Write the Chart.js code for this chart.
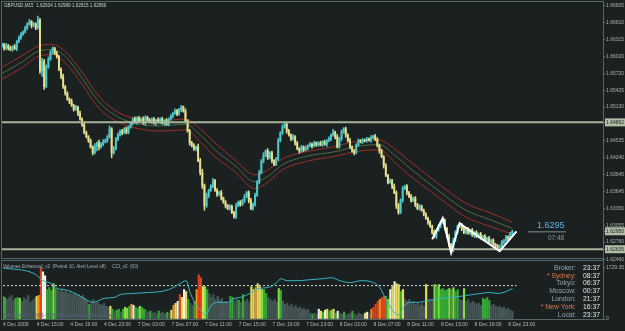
<!DOCTYPE html>
<html lang="en">
<head>
<meta charset="UTF-8">
<title>GBPUSD,M15</title>
<script src="https://cdn.jsdelivr.net/npm/chart.js@4.4.0/dist/chart.umd.min.js"></script>
<style>
  body { margin: 0; background: #1b2121; }
  #wrap { position: relative; width: 625px; height: 331px; overflow: hidden; }
  canvas { position: absolute; left: 0; }
  #main { top: 0; }
  #sub { top: 258px; }
</style>
</head>
<body>
<div id="wrap">
  <canvas id="main" width="625" height="262"></canvas>
  <canvas id="sub" width="625" height="73"></canvas>
</div>
<script>
// ---- data ----
const symbol = 'GBPUSD,M15';
const lastBar = [1.62934, 1.62989, 1.62915, 1.62950];   // O H L C of the running bar
const countdown = '07:48';
const firstOpen = 1.6620;

// M15 closes, 4 Dec 11:00 .. 8 Dec 23:30
const closes = [
  1.6623,1.6616,1.6621,1.6617,1.6614,1.6619,1.6616,1.6628,1.6635,1.6642,
  1.6645,1.6652,1.6659,1.6663,1.6656,1.6659,1.6652,1.6666,1.6576,1.6593,
  1.6549,1.6584,1.6597,1.6610,1.6616,1.6607,1.6602,1.6579,1.6567,1.6549,
  1.6537,1.6527,1.6523,1.6516,1.6509,1.6513,1.6502,1.6492,1.6482,1.6468,
  1.6461,1.6454,1.6443,1.6433,1.6445,1.6450,1.6443,1.6448,1.6452,1.6455,
  1.6461,1.6475,1.6433,1.6440,1.6457,1.6464,1.6471,1.6468,1.6475,1.6469,
  1.6478,1.6485,1.6492,1.6487,1.6494,1.6489,1.6492,1.6485,1.6495,1.6490,
  1.6487,1.6492,1.6485,1.6490,1.6487,1.6492,1.6485,1.6489,1.6483,1.6492,
  1.6497,1.6502,1.6506,1.6501,1.6509,1.6513,1.6506,1.6489,1.6471,1.6450,
  1.6445,1.6440,1.6443,1.6419,1.6398,1.6375,1.6340,1.6358,1.6367,1.6374,
  1.6384,1.6367,1.6360,1.6363,1.6353,1.6346,1.6340,1.6335,1.6339,1.6328,
  1.6321,1.6340,1.6346,1.6342,1.6349,1.6356,1.6363,1.6349,1.6335,1.6342,
  1.6358,1.6381,1.6398,1.6419,1.6428,1.6436,1.6424,1.6433,1.6419,1.6412,
  1.6422,1.6454,1.6468,1.6478,1.6483,1.6471,1.6464,1.6457,1.6461,1.6450,
  1.6440,1.6436,1.6443,1.6438,1.6441,1.6445,1.6448,1.6445,1.6450,1.6447,
  1.6450,1.6447,1.6452,1.6448,1.6454,1.6457,1.6464,1.6469,1.6461,1.6443,
  1.6457,1.6469,1.6475,1.6464,1.6454,1.6443,1.6436,1.6433,1.6447,1.6454,
  1.6452,1.6455,1.6454,1.6457,1.6455,1.6459,1.6462,1.6457,1.6445,1.6436,
  1.6426,1.6410,1.6393,1.6381,1.6384,1.6374,1.6363,1.6340,1.6328,1.6349,
  1.6370,1.6374,1.6363,1.6356,1.6349,1.6353,1.6342,1.6335,1.6339,1.6332,
  1.6325,1.6318,1.6311,1.6304,1.6293,1.6286,1.6297,1.6304,1.6311,1.6314,
  1.6300,1.6286,1.6272,1.6262,1.6279,1.6293,1.6304,1.6307,1.6300,1.6293,
  1.6299,1.6292,1.6297,1.6288,1.6293,1.6286,1.6290,1.6283,1.6286,1.6279,
  1.6283,1.6276,1.6279,1.6272,1.6269,1.6264,1.6269,1.6276,1.6279,1.6285,
  1.6283,1.6290,1.6295
];
// wick lengths above / below the body, in pips, one digit per bar
const wickUp =
  '3242324232' + '2324232736' + '4342324234' + '2324232423' + '3232425342' +
  '3524342323' + '2324232432' + '3232423242' + '3243232423' + '3425463423' +
  '4232423232' + '2423242343' + '4342524232' + '3424423242' + '3232423232' +
  '2323242524' + '3423242323' + '2323242323' + '3242324343' + '4232423232' +
  '2323242324' + '3242432423' + '2323232323' + '2323232323' + '232';
const wickDown =
  '2324232423' + '3232423249' + '5232423243' + '3242324232' + '2324295232' +
  '4293232423' + '3232423242' + '2324232423' + '2323242324' + '2342458342' +
  '3242324232' + '3423242423' + '3232423242' + '2323242324' + '2423232423' +
  '3232423242' + '2324232423' + '2323242324' + '2423242532' + '3242324232' +
  '3242324232' + '3245323242' + '3232423242' + '3242324232' + '323';
const PIP = 0.0001;

// moving average envelope, read at a few bars
const maIdx   = [0, 9, 18, 24, 30, 37, 46, 56, 65, 75, 87, 94, 101, 110, 120, 127, 133, 146, 157, 170, 179, 186, 193, 204, 220, 231, 242];
const maUpper = [1.6583,1.6602,1.6621,1.6623,1.6610,1.6579,1.6532,1.6502,1.6492,1.6489,1.6492,1.6475,1.6450,1.6422,1.6394,1.6405,1.6422,1.6436,1.6443,1.6454,1.6455,1.6440,1.6419,1.6387,1.6344,1.6328,1.6311];
const maMid   = [1.6572,1.6591,1.6612,1.6614,1.6602,1.6569,1.6522,1.6494,1.6483,1.6480,1.6483,1.6464,1.6438,1.6412,1.6382,1.6394,1.6412,1.6428,1.6434,1.6445,1.6447,1.6429,1.6407,1.6375,1.6332,1.6316,1.6300];
const maLower = [1.6562,1.6581,1.6603,1.6605,1.6591,1.6558,1.6511,1.6485,1.6475,1.6471,1.6473,1.6452,1.6426,1.6401,1.6370,1.6384,1.6403,1.6419,1.6426,1.6436,1.6438,1.6417,1.6394,1.6363,1.6320,1.6304,1.6290];

// zigzag
const zzIdx = [204, 209, 213, 217, 236, 244];
const zzVal = [1.6281, 1.6318, 1.6257, 1.6309, 1.6260, 1.6295];

const hLevels = [1.64862, 1.62635];
const priceTicks = [1.66905,1.66610,1.66315,1.66020,1.65720,1.65425,1.65130,1.64535,1.64240,1.63945,1.63645,1.63350,1.63055,1.62760,1.62460];
const markedPrices = [1.64862, 1.62950, 1.62635];

// Volumes Enhanced
const volumes = [
  759,726,660,726,792,627,693,726,693,594,
  726,660,792,561,627,693,759,792,1729,1584,
  1452,990,1056,957,1188,1023,990,924,1023,891,
  957,858,924,825,891,792,825,726,792,693,
  627,495,594,660,528,561,495,462,528,429,
  396,429,330,264,297,330,231,330,396,363,
  429,495,462,396,363,429,396,330,297,231,
  264,198,231,165,264,198,231,165,231,198,
  297,462,528,594,825,726,990,924,660,528,
  462,594,990,1485,1386,1089,1089,990,858,726,
  825,660,759,627,693,561,594,528,759,726,
  594,660,627,561,825,594,660,561,1089,990,
  1056,1188,1089,990,990,858,726,660,594,660,
  561,1023,957,594,495,528,429,495,396,462,
  363,396,330,363,297,330,198,165,198,165,
  330,264,231,297,330,264,297,330,198,264,
  198,165,231,132,165,198,264,165,132,198,
  165,132,198,231,165,330,396,495,594,660,
  726,759,759,660,990,1089,1254,1188,1155,924,
  990,660,594,660,528,594,495,561,462,528,
  429,1155,660,594,627,1155,1089,1155,990,1023,
  957,990,1023,990,1056,924,990,660,627,1023,
  594,660,528,594,561,495,528,462,693,660,
  726,627,462,495,429,396,429,363,396,330,
  363,297,264
];
// volume class per bar: g normal, G green, L lime, Y yellow, O orange, R red, W white
const volClass =
  'GGggggGGLg' + 'ggggggYORW' + 'WGGGLGgggg' + 'gggggggggg' + 'gGgggggggg' +
  'gYGgGGgGLL' + 'GOWGGLGGgg' + 'GgggGgggGg' + 'YOYWRYWYGg' + 'gGORRYLGgg' +
  'ggggggggGG' + 'ggGgGgggYY' + 'OYYLGGgggg' + 'gLGggggggg' + 'gggggggGgg' +
  'WYGWYGLYGW' + 'ggGgggGggg' + 'ggYWgORRRO' + 'RRGLWYWYYG' + 'Yggggggggg' +
  'gYgggLGLGG' + 'GGLGLGGggL' + 'ggggggggGG' + 'GGgggggggg' + 'ggg';
const volTicks = [0, 1729.35];

// CCI(63), read at a few bars
const cciIdx = [0,15,19,23,26,31,36,40,43,48,53,56,62,69,75,80,84,87,89,92,95,96,99,102,107,110,113,118,121,126,130,132,135,140,146,152,156,160,165,170,176,179,181,183,185,188,190,193,197,202,208,214,220,227,231,235,239,242];
const cciVal = [180,120,50,20,-30,-50,-100,-150,-170,-130,-120,-90,-80,-70,-60,-30,20,50,-80,-200,-280,-300,-200,-170,-170,-130,-120,-70,-30,-20,30,70,50,50,60,70,80,50,30,50,30,-20,-100,-180,-250,-300,-230,-170,-170,-150,-130,-120,-100,-80,-70,-80,-60,-30];
const cciLevel = 0;

const timeLabels = ['4 Dec 2009','4 Dec 15:00','4 Dec 19:00','4 Dec 23:00','7 Dec 03:00','7 Dec 07:00','7 Dec 11:00',
  '7 Dec 15:00','7 Dec 19:00','7 Dec 23:00','8 Dec 03:00','8 Dec 07:00','8 Dec 11:00','8 Dec 15:00','8 Dec 19:00','8 Dec 23:00'];
const barsPerLabel = 16;

const clockNames = ['Broker:', '* Sydney:', 'Tokyo:', 'Moscow:', 'London:', '* New York:', 'Local:'];
const clockTimes = ['23:37', '08:37', '06:37', '00:37', '21:37', '16:37', '23:37'];

// ---- layout / style ----
const SLOTS = 286;
const slots = Array.from({length: SLOTS}, (_, i) => i);
const FONT = "'Liberation Sans', Arial, sans-serif";
const FRAME = '#536566';
const AXIS_TXT = '#a9b3b3';
const UP = '#4cc8cc', DOWN = '#e6df8c';
const volColors = { g: '#465555', G: '#33a833', L: '#86dc44', Y: '#e6de5a', O: '#f0921e', R: '#e2401a', W: '#f2f2e6' };

function sparse(idx, vals) {
  const a = new Array(SLOTS).fill(null);
  idx.forEach((k, j) => { a[k] = vals[j]; });
  return a;
}
const openOf = i => (i ? closes[i - 1] : firstOpen);
const candles = closes.map((c, i) => [openOf(i), c]);
const wicks = closes.map((c, i) => [
  Math.min(openOf(i), c) - Number(wickDown[i]) * PIP,
  Math.max(openOf(i), c) + Number(wickUp[i]) * PIP
]);
const candleColor = ctx => (closes[ctx.dataIndex] >= openOf(ctx.dataIndex) ? UP : DOWN);
const isMarked = v => markedPrices.some(m => Math.abs(m - v) < 1e-7);

function lineDs(data, color, width, order, extra) {
  return Object.assign({ type: 'line', data, borderColor: color, borderWidth: width, pointRadius: 0,
    spanGaps: true, order }, extra || {});
}

const mainDecor = {
  id: 'mainDecor',
  afterDraw(chart) {
    const c = chart.ctx, a = chart.chartArea;
    c.save();
    c.strokeStyle = FRAME; c.lineWidth = 1;
    c.strokeRect(1.5, 1.5, a.right - 1, a.bottom - 1);
    c.textBaseline = 'middle';
    c.font = '4.6px ' + FONT;
    c.fillStyle = '#c8d0d0';
    c.fillText(symbol + '  ' + lastBar.map(v => v.toFixed(5)).join(' '), 4, 6);
    c.font = '9px ' + FONT;
    c.fillStyle = '#5cb0e4';
    c.fillText(closes[closes.length - 1].toFixed(4), 537, 226);
    c.fillStyle = '#5a6a6e';
    c.fillRect(528, 231, 38, 1.5);
    c.font = '6.4px ' + FONT;
    c.fillStyle = '#8c9aa0';
    c.fillText(countdown, 548, 238);
    c.restore();
  }
};

new Chart(document.getElementById('main'), {
  type: 'bar',
  data: {
    labels: slots,
    datasets: [
      lineDs(sparse(zzIdx, zzVal), '#ffffff', 2, 0),
      ...hLevels.map(v => lineDs(sparse([0, SLOTS - 1], [v, v]), '#a9b59a', 2, 1)),
      { type: 'bar', data: candles, order: 2, grouped: false, barThickness: 1.3, minBarLength: 1.2,
        backgroundColor: candleColor },
      { type: 'bar', data: wicks, order: 3, grouped: false, barThickness: 0.9,
        backgroundColor: candleColor },
      lineDs(sparse(maIdx, maUpper), '#9c2f28', 1, 4, { cubicInterpolationMode: 'monotone' }),
      lineDs(sparse(maIdx, maMid), '#4d6c45', 1, 4, { cubicInterpolationMode: 'monotone' }),
      lineDs(sparse(maIdx, maLower), '#9c2f28', 1, 4, { cubicInterpolationMode: 'monotone' })
    ]
  },
  options: {
    responsive: false, animation: false, devicePixelRatio: 1,
    layout: { padding: { left: 2, top: 2, right: 0, bottom: 4 } },
    plugins: { legend: { display: false }, tooltip: { enabled: false } },
    scales: {
      x: { display: false, offset: false, grid: { offset: false } },
      y: {
        position: 'right', min: 1.62481, max: 1.66940,
        afterFit: s => { s.width = 22; },
        afterBuildTicks: s => { s.ticks = priceTicks.concat(markedPrices).map(v => ({ value: v })); },
        grid: { drawOnChartArea: false, tickLength: 2, color: '#6c7b7b' },
        border: { display: false },
        ticks: {
          autoSkip: false, padding: 1, font: { family: FONT, size: 5 },
          color: c => (isMarked(c.tick.value) ? '#1b2121' : AXIS_TXT),
          showLabelBackdrop: c => isMarked(c.tick.value),
          backdropColor: '#b2bea6', backdropPadding: { x: 1, y: 1 },
          callback: v => v.toFixed(5)
        }
      }
    }
  },
  plugins: [mainDecor]
});

const subDecor = {
  id: 'subDecor',
  afterDraw(chart) {
    const c = chart.ctx, a = chart.chartArea;
    c.save();
    c.strokeStyle = FRAME; c.lineWidth = 1;
    c.strokeRect(1.5, 2.5, a.right - 1, a.bottom - 2);
    c.textBaseline = 'middle';
    c.font = '4.6px ' + FONT;
    c.fillStyle = '#9fb0b8';
    c.fillText('Volumes Enhanced_v2  (Period 10, Alert Level off)     CCI_v2  (63)', 3, 9);
    c.fillStyle = '#4f6674';
    c.fillText('FxPro, M15  \u00a9 2001-2009, MetaQuotes Software Corp.', 3, 58);
    c.font = '6.8px ' + FONT;
    const rows = [10, 18, 25.5, 33, 41, 49, 57];
    clockNames.forEach((n, i) => {
      c.textAlign = 'right';
      c.fillStyle = n.startsWith('*') ? '#e07a4c' : '#8fa4b4';
      c.fillText(n, 576, rows[i]);
      c.textAlign = 'left';
      c.fillStyle = '#e8e8e8';
      c.fillText(clockTimes[i], 583, rows[i]);
    });
    c.restore();
  }
};

new Chart(document.getElementById('sub'), {
  type: 'bar',
  data: {
    labels: slots,
    datasets: [
      lineDs(sparse(cciIdx, cciVal), '#37b6c6', 1, 0, { yAxisID: 'yc', cubicInterpolationMode: 'monotone' }),
      lineDs(sparse([0, 244], [cciLevel, cciLevel]), '#d8d8d0', 1, 1, { yAxisID: 'yc', borderDash: [2, 2] }),
      { type: 'bar', data: volumes, yAxisID: 'yv', order: 2, barThickness: 1.5,
        backgroundColor: ctx => volColors[volClass[ctx.dataIndex]] }
    ]
  },
  options: {
    responsive: false, animation: false, devicePixelRatio: 1,
    layout: { padding: { left: 2, top: 3, right: 0, bottom: 0 } },
    plugins: { legend: { display: false }, tooltip: { enabled: false } },
    scales: {
      x: {
        offset: false, grid: { display: false, drawTicks: false, offset: false }, border: { display: false },
        afterFit: s => { s.height = 12; },
        ticks: {
          autoSkip: false, maxRotation: 0, minRotation: 0, align: 'start', padding: 3,
          font: { family: FONT, size: 5 }, color: '#b4bcbc',
          callback: (v, i) => (i % barsPerLabel === 0 && i / barsPerLabel < timeLabels.length ? timeLabels[i / barsPerLabel] : '')
        }
      },
      yv: {
        position: 'right', min: 0, max: 1914,
        afterFit: s => { s.width = 22; },
        afterBuildTicks: s => { s.ticks = volTicks.map(v => ({ value: v })); },
        grid: { drawOnChartArea: false, tickLength: 2, color: '#6c7b7b' },
        border: { display: false },
        ticks: { autoSkip: false, padding: 1, font: { family: FONT, size: 5 }, color: AXIS_TXT,
          callback: v => (v === 0 ? '0' : v.toFixed(2)) }
      },
      yc: { display: false, min: -340, max: 240 }
    }
  },
  plugins: [subDecor]
});
</script>
</body>
</html>
